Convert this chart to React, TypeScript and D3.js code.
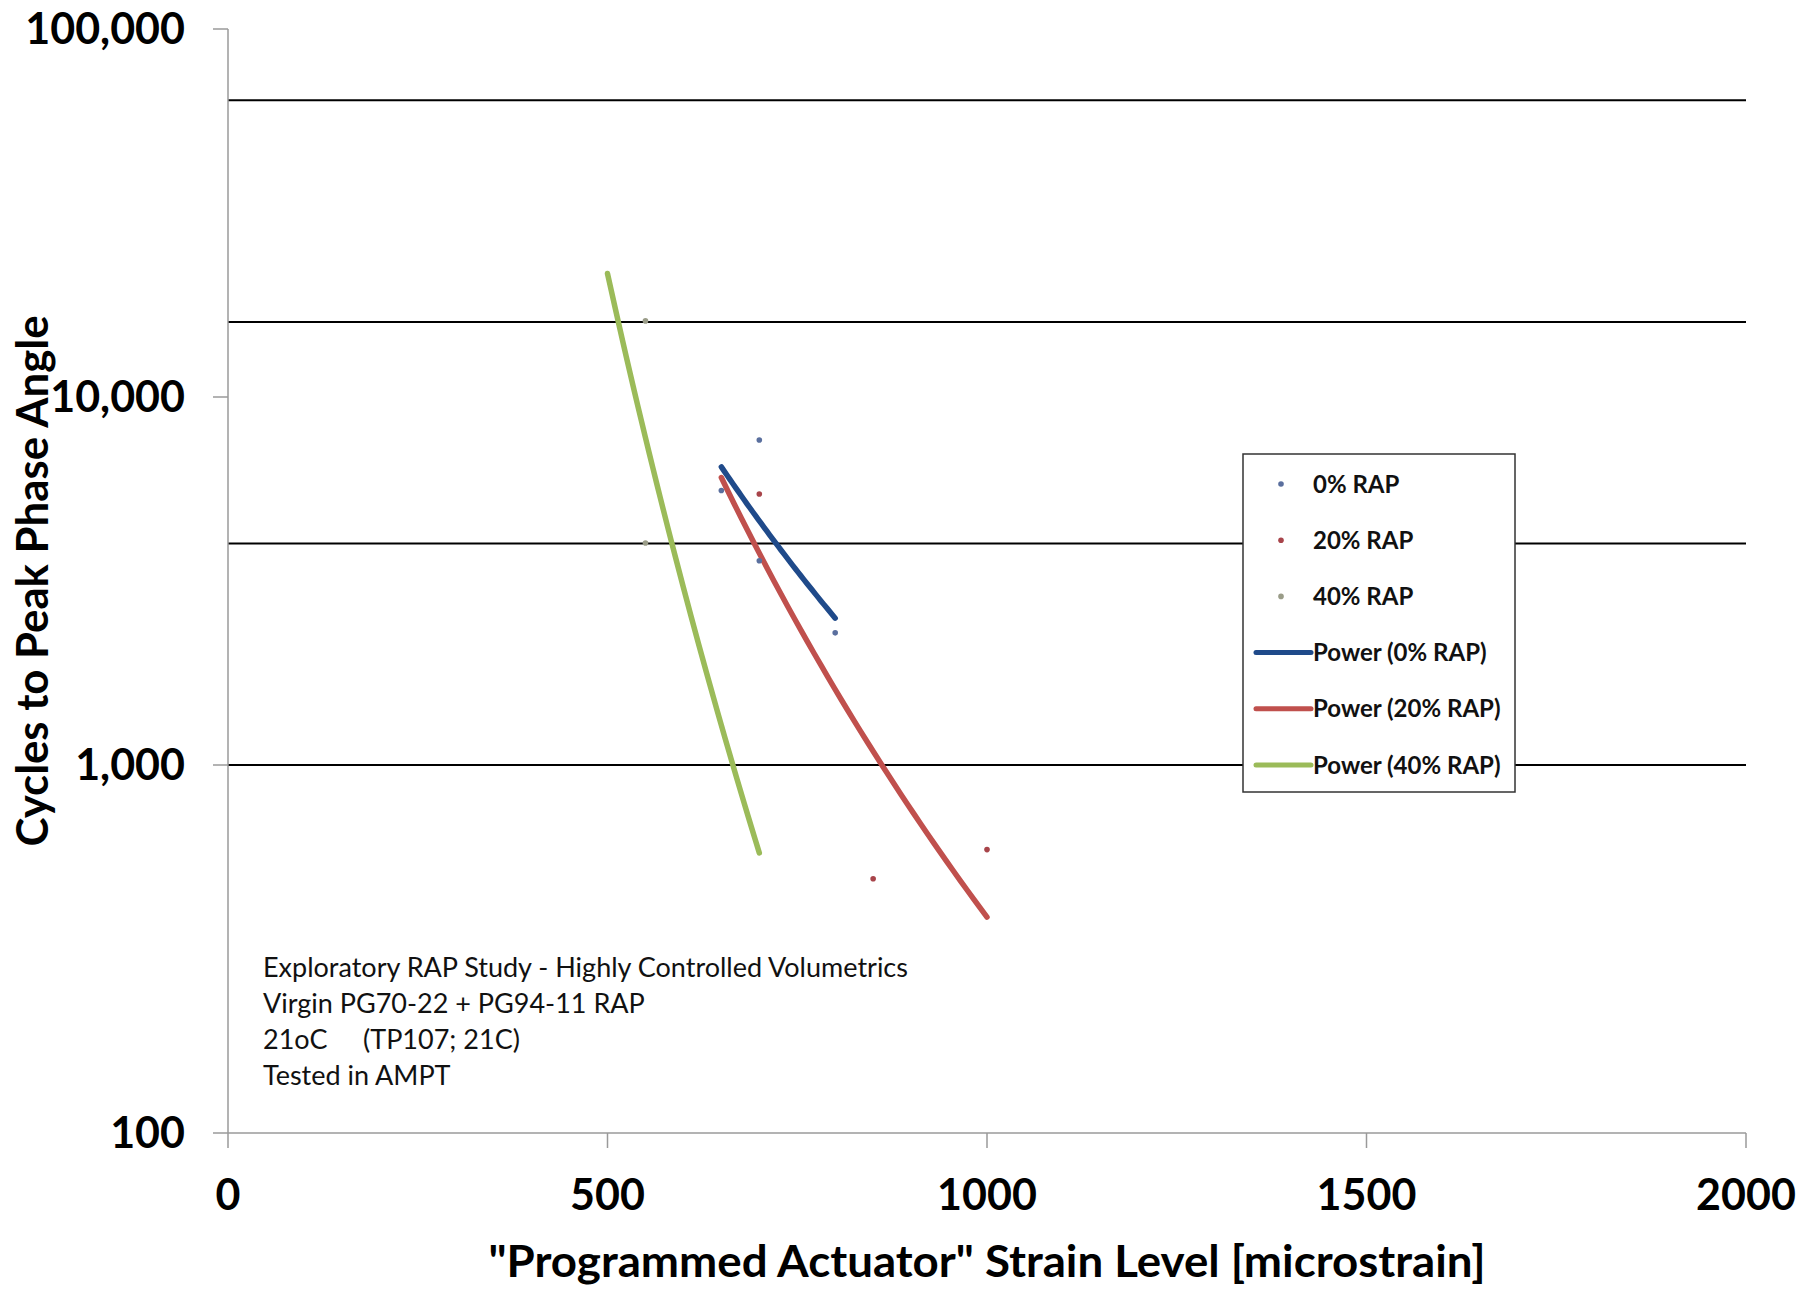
import * as d3 from "d3";

const rap0Strain = [650, 700, 700, 800];
const rap0Cycles = [5570, 3590, 7640, 2286];
const rap20Strain = [700, 850, 1000];
const rap20Cycles = [5450, 491, 589];
const rap40Strain = [550, 550];
const rap40Cycles = [16100, 4010];

// power trendlines: end points as drawn
const trendNames = ["Power (0% RAP)", "Power (20% RAP)", "Power (40% RAP)"];
const trendStartX = [650, 650, 500];
const trendEndX = [800, 1000, 700];
const trendStartY = [6457, 6040, 21650];
const trendEndY = [2506, 386, 577];
const trendColors = ["#1f4a8a", "#c0504d", "#9bbb59"];

const pointNames = ["0% RAP", "20% RAP", "40% RAP"];
const pointColors = ["#5a6f9e", "#a8444a", "#9a9c88"];

const refLines = [1000, 4000, 16000, 64000];
const xTicks = [0, 500, 1000, 1500, 2000];
const yTicks = [100, 1000, 10000, 100000];
const notes = [
  "Exploratory RAP Study - Highly Controlled Volumetrics",
  "Virgin PG70-22 + PG94-11 RAP",
  "21oC",
  "Tested in AMPT",
];

const W = 1818;
const H = 1289;
const font = "Lato, 'Open Sans', sans-serif";

export default function App() {
  const x = d3.scaleLinear().domain([0, 2000]).range([228, 1746]);
  const y = d3.scaleLog().domain([100, 100000]).range([1133, 29]);

  const line = d3
    .line<[number, number]>()
    .x((d) => x(d[0]))
    .y((d) => y(d[1]));

  const trends = trendNames.map((name, i) => {
    const x0 = trendStartX[i], x1 = trendEndX[i];
    const y0 = trendStartY[i], y1 = trendEndY[i];
    const b = Math.log(y1 / y0) / Math.log(x1 / x0);
    const pts: [number, number][] = d3
      .range(0, 41)
      .map((k) => x0 + ((x1 - x0) * k) / 40)
      .map((s) => [s, y0 * Math.pow(s / x0, b)]);
    return { name, d: line(pts) || "", color: trendColors[i] };
  });

  const points = [
    { xs: rap0Strain, ys: rap0Cycles, color: pointColors[0] },
    { xs: rap20Strain, ys: rap20Cycles, color: pointColors[1] },
    { xs: rap40Strain, ys: rap40Cycles, color: pointColors[2] },
  ];

  const legendRows = [
    ...pointNames.map((n, i) => ({ name: n, kind: "dot", color: pointColors[i] })),
    ...trendNames.map((n, i) => ({ name: n, kind: "line", color: trendColors[i] })),
  ];

  return (
    <div style={{ position: "absolute", left: 0, top: 0 }}>
      <svg width={W} height={H} style={{ display: "block", background: "#fff" }}>
        <rect width={W} height={H} fill="#fff" />

        {/* reference lines */}
        {refLines.map((v) => (
          <line key={v} x1={x(0)} x2={x(2000)} y1={y(v)} y2={y(v)} stroke="#000" strokeWidth={2} />
        ))}

        {/* axes */}
        <line x1={x(0)} x2={x(0)} y1={y(100000)} y2={y(100)} stroke="#9a9a9a" strokeWidth={1.5} />
        <line x1={x(0)} x2={x(2000)} y1={y(100)} y2={y(100)} stroke="#9a9a9a" strokeWidth={1.5} />
        {yTicks.map((t) => (
          <g key={t}>
            <line x1={x(0) - 15} x2={x(0)} y1={y(t)} y2={y(t)} stroke="#9a9a9a" strokeWidth={1.5} />
            <text x={185} y={y(t)} dy="0.36em" textAnchor="end" fontFamily={font} fontWeight={700} fontSize={43}>
              {d3.format(",")(t)}
            </text>
          </g>
        ))}
        {xTicks.map((t) => (
          <g key={t}>
            <line x1={x(t)} x2={x(t)} y1={y(100)} y2={y(100) + 15} stroke="#9a9a9a" strokeWidth={1.5} />
            <text x={x(t)} y={1195} dy="0.36em" textAnchor="middle" fontFamily={font} fontWeight={700} fontSize={43}>
              {t}
            </text>
          </g>
        ))}

        {/* axis titles */}
        <text x={987} y={1262} dy="0.36em" textAnchor="middle" fontFamily={font} fontWeight={700} fontSize={43}
          textLength={997} lengthAdjust="spacingAndGlyphs">
          "Programmed Actuator" Strain Level [microstrain]
        </text>
        <text transform="translate(33,581) rotate(-90)" dy="0.36em" textAnchor="middle" fontFamily={font}
          fontWeight={700} fontSize={43} textLength={531} lengthAdjust="spacingAndGlyphs">
          Cycles to Peak Phase Angle
        </text>

        {/* trendlines */}
        {trends.map((t) => (
          <path key={t.name} d={t.d} fill="none" stroke={t.color} strokeWidth={5.5} strokeLinecap="round" />
        ))}

        {/* measured points */}
        {points.map((s, i) =>
          s.xs.map((v, j) => (
            <circle key={`${i}-${j}`} cx={x(v)} cy={y(s.ys[j])} r={2.8} fill={s.color} />
          ))
        )}

        {/* notes */}
        <g fontFamily={font} fontSize={27} fill="#111">
          {notes.map((n, i) => (
            <text key={i} x={263} y={977 + i * 36}>
              {n}
              {i === 2 ? <tspan x={363}>(TP107; 21C)</tspan> : null}
            </text>
          ))}
        </g>

        {/* legend */}
        <g>
          <rect x={1243} y={454} width={272} height={338} fill="#fff" stroke="#333" strokeWidth={1.5} />
          {legendRows.map((r, i) => {
            const cy = 484 + i * 56.2;
            return (
              <g key={r.name}>
                {r.kind === "dot" ? (
                  <circle cx={1281} cy={cy} r={2.8} fill={r.color} />
                ) : (
                  <line x1={1256} x2={1311} y1={cy} y2={cy} stroke={r.color} strokeWidth={5} strokeLinecap="round" />
                )}
                <text x={1313} y={cy} dy="0.36em" fontFamily={font} fontWeight={700} fontSize={24} fill="#111">
                  {r.name}
                </text>
              </g>
            );
          })}
        </g>
      </svg>
    </div>
  );
}
